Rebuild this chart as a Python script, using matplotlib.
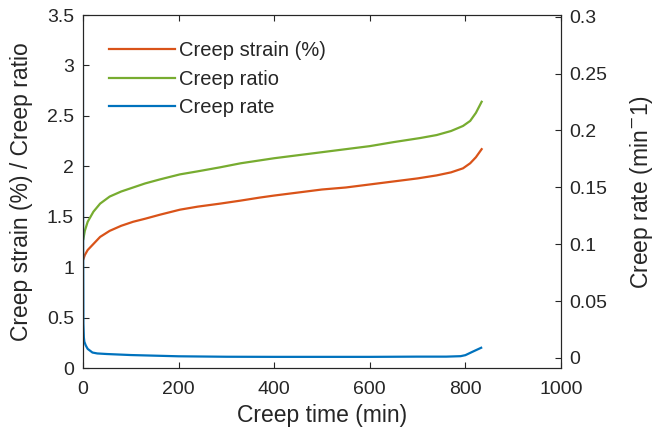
import numpy as np
import matplotlib.pyplot as plt
from matplotlib.ticker import FormatStrFormatter

plt.rcParams['font.family'] = ['Liberation Sans', 'DejaVu Sans']

# values
t_strain = [1, 4, 10, 22, 36, 56, 80, 105, 130, 161, 203, 240, 287, 330, 370, 400, 450,
            500, 550, 600, 650, 700, 740, 770, 795, 810, 822, 834]
strain = [1.08, 1.12, 1.17, 1.23, 1.30, 1.36, 1.41, 1.45, 1.48, 1.52, 1.57, 1.60, 1.63, 1.66,
          1.69, 1.71, 1.74, 1.77, 1.79, 1.82, 1.85, 1.88, 1.91, 1.94, 1.98, 2.03, 2.09, 2.17]

t_ratio = [1, 4, 10, 22, 36, 56, 80, 105, 130, 161, 203, 240, 287, 330, 400, 450, 500,
           550, 600, 650, 705, 740, 770, 795, 810, 822, 834]
ratio = [1.28, 1.36, 1.45, 1.55, 1.63, 1.70, 1.75, 1.79, 1.83, 1.87, 1.92, 1.95, 1.99, 2.03,
         2.08, 2.11, 2.14, 2.17, 2.20, 2.24, 2.28, 2.31, 2.35, 2.40, 2.45, 2.53, 2.64]

t_rate = [0, 0.5, 1, 2, 3, 6, 10, 20, 30, 50, 100, 200, 300, 400, 500, 600, 700, 760,
          790, 800, 815, 833]
rate = [0.278, 0.1, 0.03, 0.018, 0.0143, 0.011, 0.008, 0.0048, 0.004, 0.0035, 0.0026,
        0.0015, 0.0011, 0.001, 0.001, 0.001, 0.0012, 0.0012, 0.0016, 0.0025, 0.0055, 0.009]

txt = '#262626'
c_strain = '#D95319'
c_ratio = '#77AC30'
c_rate = '#0072BD'

fig = plt.figure(figsize=(6.58, 4.42), dpi=100)
ax = fig.add_axes([0.126, 0.1674, 0.7266, 0.7986])
ax2 = ax.twinx()

l1, = ax.plot(t_strain, strain, color=c_strain, lw=1.6, label='Creep strain (%)')
l2, = ax.plot(t_ratio, ratio, color=c_ratio, lw=1.6, label='Creep ratio')
l3, = ax2.plot(t_rate, rate, color=c_rate, lw=1.6, label='Creep rate')

ax.set_xlim(0, 1000)
ax.set_ylim(0, 3.5)
ax.set_xticks(np.arange(0, 1001, 200))
ax.set_yticks(np.arange(0, 3.51, 0.5))
ax.yaxis.set_major_formatter(FormatStrFormatter('%g'))
ax2.set_ylim(-0.0088, 0.3015)
ax2.set_yticks(np.arange(0, 0.301, 0.05))
ax2.yaxis.set_major_formatter(FormatStrFormatter('%g'))

fs = 14
lfs = 16.5
ax.tick_params(direction='in', length=4, top=True, right=False, labelsize=fs, colors=txt)
ax.tick_params(axis='x', pad=9)
ax.tick_params(axis='y', pad=6.5)
ax2.tick_params(direction='in', length=4, labelsize=fs, colors=txt, pad=6)
for a in (ax, ax2):
    for s in a.spines.values():
        s.set_color(txt)
        s.set_linewidth(0.8)

ax.set_xlabel('Creep time (min)', fontsize=lfs, color=txt, labelpad=5)
ax.set_ylabel('Creep strain (%) / Creep ratio', fontsize=lfs, color=txt, labelpad=10)
ax2.set_ylabel('Creep rate (min$^{-}$1)', fontsize=lfs, color=txt, labelpad=15)

ax.legend([l1, l2, l3], [l.get_label() for l in (l1, l2, l3)], loc='upper left',
          bbox_to_anchor=(0.025, 0.965), frameon=False, fontsize=14.5, handlelength=3.3,
          handletextpad=0.2, labelspacing=0.47, labelcolor=txt, borderaxespad=0.3)

fig.savefig('out.png', dpi=100)
